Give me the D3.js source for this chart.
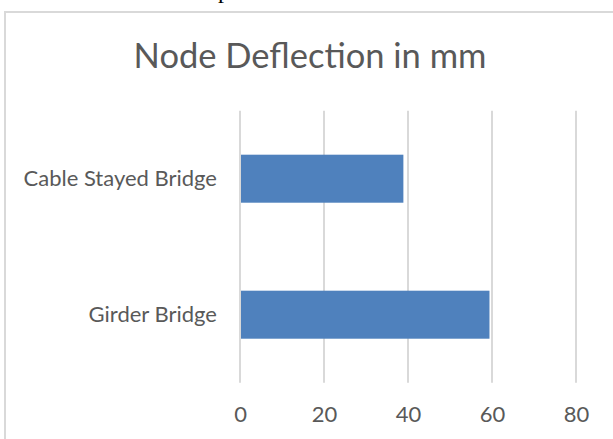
<!DOCTYPE html>
<html>
<head>
<meta charset="utf-8">
<script src="https://cdn.jsdelivr.net/npm/d3@7"></script>
<style>
  html, body { margin: 0; padding: 0; background: #fff; overflow: hidden; }
  text { font-family: Lato, 'Open Sans', sans-serif; fill: #595959; }
</style>
</head>
<body>
<div id="root"></div>
<script>
'use strict';

// chart data
var categories = ['Cable Stayed Bridge', 'Girder Bridge'];
var deflection = [38.9, 59.4];
var xTicks = [0, 20, 40, 60, 80];
var chartTitle = 'Node Deflection in mm';

var width = 613, height = 439;

var svg = d3.select('#root').append('svg')
  .attr('width', width)
  .attr('height', height);

// chart frame, cut off at right and bottom
svg.append('rect')
  .attr('x', 5)
  .attr('y', 12)
  .attr('width', 700)
  .attr('height', 500)
  .attr('fill', '#fff')
  .attr('stroke', '#d9d9d9')
  .attr('stroke-width', 2);

// stray glyph from the page above the chart
svg.append('text')
  .attr('x', 218)
  .attr('y', -2)
  .style('font-family', "'Liberation Serif', serif")
  .style('fill', '#000')
  .style('font-size', '24px')
  .text('p');

var x = d3.scaleLinear().domain([0, 80]).range([240, 576]);
var y = d3.scaleBand().domain(categories).range([110.7, 382.7])
  .paddingInner(0.647).paddingOuter(0.3235);

// gridlines
svg.selectAll('line.grid')
  .data(xTicks)
  .enter().append('line')
  .attr('class', 'grid')
  .attr('x1', function (d) { return x(d); })
  .attr('x2', function (d) { return x(d); })
  .attr('y1', 110.7)
  .attr('y2', 382.7)
  .attr('stroke', '#d9d9d9')
  .attr('stroke-width', 2);

// bars
svg.selectAll('rect.bar')
  .data(deflection)
  .enter().append('rect')
  .attr('class', 'bar')
  .attr('x', x(0) + 1)
  .attr('y', function (d, i) { return y(categories[i]); })
  .attr('width', function (d) { return x(d) - x(0) - 1; })
  .attr('height', y.bandwidth())
  .attr('fill', '#4f81bd');

// x tick labels
var xAxis = d3.axisBottom(x).tickValues(xTicks).tickSize(0).tickPadding(0);
var gx = svg.append('g').attr('transform', 'translate(0,406)').call(xAxis);
gx.select('.domain').remove();
gx.selectAll('text')
  .style('font-size', '22px')
  .style('font-family', 'Lato, sans-serif')
  .attr('fill', '#595959')
  .attr('dy', '0.71em');

// category labels
var yAxis = d3.axisLeft(y).tickSize(0).tickPadding(0);
var gy = svg.append('g').attr('transform', 'translate(217,0)').call(yAxis);
gy.select('.domain').remove();
gy.selectAll('text')
  .style('font-size', '22px')
  .style('font-family', 'Lato, sans-serif')
  .attr('fill', '#595959')
  .attr('dy', '0.34em');

// title
svg.append('text')
  .attr('x', 310)
  .attr('y', 68)
  .attr('text-anchor', 'middle')
  .style('font-size', '34.5px')
  .text(chartTitle);
</script>
</body>
</html>
